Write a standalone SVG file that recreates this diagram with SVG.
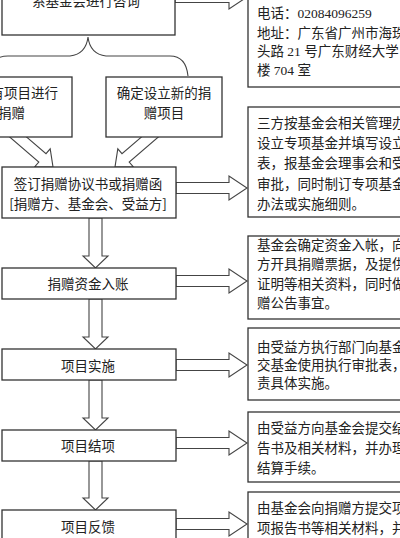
<svg xmlns="http://www.w3.org/2000/svg" width="400" height="538" viewBox="0 0 400 538">
<style>
.box{fill:#fff;stroke:#333;stroke-width:1.3}
.arr{fill:#fff;stroke:#444;stroke-width:1.1;stroke-linejoin:miter}
.brace{fill:none;stroke:#444;stroke-width:1.1}
.t{font-family:"Noto Sans CJK SC","Liberation Sans",sans-serif;font-size:13.5px;fill:#222;dominant-baseline:central}
.c{text-anchor:middle}
.r{font-family:"Liberation Serif","Noto Sans CJK SC",serif;font-size:13.5px;fill:#222;dominant-baseline:central}
</style>
<rect width="400" height="538" fill="#fff"/>
<g id="connectors">
<path class="brace" d="M -12,76 Q -10,56 8,56 L 70,56 Q 86,54 88,37 Q 90,54 106,56 L 170,56 Q 186,56 188,76"/>
<path class="arr" d="M175,-8.5 L229,-8.5 L229,-15 L247,-3 L229,9 L229,2.5 L175,2.5 Z"/>
<path class="arr" d="M176,182.5 L229,182.5 L229,176 L247,188 L229,200 L229,193.5 L176,193.5 Z"/>
<path class="arr" d="M176,275.5 L229,275.5 L229,269 L247,281 L229,293 L229,286.5 L176,286.5 Z"/>
<path class="arr" d="M176,359.5 L229,359.5 L229,353 L247,365 L229,377 L229,370.5 L176,370.5 Z"/>
<path class="arr" d="M176,437.5 L229,437.5 L229,431 L247,443 L229,455 L229,448.5 L176,448.5 Z"/>
<path class="arr" d="M176,518.5 L229,518.5 L229,512 L247,524 L229,536 L229,529.5 L176,529.5 Z"/>
<path class="arr" d="M89,218 L102,218 L102,256 L108,256 L95.5,268 L83,256 L89,256 Z"/>
<path class="arr" d="M89,299 L102,299 L102,337 L108,337 L95.5,349 L83,337 L89,337 Z"/>
<path class="arr" d="M89,380 L102,380 L102,418 L108,418 L95.5,430 L83,418 L89,418 Z"/>
<path class="arr" d="M89,461 L102,461 L102,498 L108,498 L95.5,510 L83,498 L89,498 Z"/>
<path class="arr" d="M13.6,125.8 L46,153.7 L50.2,148.8 L53,167 L34.6,167 L38.8,162.1 L6.4,134.2 Z"/>
<path class="arr" d="M154.4,125.8 L122,153.7 L117.8,148.8 L115,167 L133.4,167 L129.2,162.1 L161.6,134.2 Z"/>
</g>
<g id="n-consult"><rect class="box" x="2" y="-20" width="173" height="55"/><text class="t c" x="86" y="0">系基金会进行咨询</text></g>
<g id="n-existing"><rect class="box" x="-20" y="77" width="92" height="60"/><text class="t" x="58" y="92" text-anchor="end">有项目进行</text><text class="t" x="25" y="112" text-anchor="end">捐赠</text></g>
<g id="n-new"><rect class="box" x="106" y="77" width="116" height="60"/><text class="t c" x="164" y="92">确定设立新的捐</text><text class="t c" x="164" y="112">赠项目</text></g>
<g id="n-sign"><rect class="box" x="2" y="167" width="174" height="51"/><text class="t c" x="88" y="183">签订捐赠协议书或捐赠函</text><text class="t c" x="88" y="203">[捐赠方、基金会、受益方]</text></g>
<g id="n-funds"><rect class="box" x="2" y="268" width="174" height="31"/><text class="t c" x="88" y="283">捐赠资金入账</text></g>
<g id="n-impl"><rect class="box" x="2" y="349" width="174" height="31"/><text class="t c" x="88" y="365">项目实施</text></g>
<g id="n-close"><rect class="box" x="2" y="430" width="174" height="31"/><text class="t c" x="88" y="445">项目结项</text></g>
<g id="n-feedback"><rect class="box" x="2" y="510" width="174" height="50"/><text class="t c" x="88" y="526">项目反馈</text></g>
<g id="r-contact"><rect class="box" x="248" y="-20" width="200" height="107"/>
<text class="r" x="257" y="13">电话：02084096259</text>
<text class="r" x="257" y="33">地址：广东省广州市海珠</text>
<text class="r" x="257" y="51">头路 21 号广东财经大学</text>
<text class="r" x="257" y="70">楼 704 室</text></g>
<g id="r-setup"><rect class="box" x="248" y="107" width="200" height="110"/>
<text class="r" x="257" y="123">三方按基金会相关管理办</text>
<text class="r" x="257" y="143">设立专项基金并填写设立</text>
<text class="r" x="257" y="163">表，报基金会理事会和受</text>
<text class="r" x="257" y="184">审批，同时制订专项基金</text>
<text class="r" x="257" y="204">办法或实施细则。</text></g>
<g id="r-funds"><rect class="box" x="248" y="236" width="200" height="83"/>
<text class="r" x="257" y="245">基金会确定资金入帐，向</text>
<text class="r" x="257" y="264">方开具捐赠票据，及提供</text>
<text class="r" x="257" y="284">证明等相关资料，同时做</text>
<text class="r" x="257" y="303">赠公告事宜。</text></g>
<g id="r-impl"><rect class="box" x="248" y="328" width="200" height="72"/>
<text class="r" x="257" y="347">由受益方执行部门向基金</text>
<text class="r" x="257" y="365">交基金使用执行审批表，</text>
<text class="r" x="257" y="383">责具体实施。</text></g>
<g id="r-close"><rect class="box" x="248" y="412" width="200" height="70"/>
<text class="r" x="257" y="428">由受益方向基金会提交结</text>
<text class="r" x="257" y="448">告书及相关材料，并办理</text>
<text class="r" x="257" y="468">结算手续。</text></g>
<g id="r-feedback"><rect class="box" x="248" y="492" width="200" height="70"/>
<text class="r" x="257" y="508">由基金会向捐赠方提交项</text>
<text class="r" x="257" y="528">项报告书等相关材料，并</text></g>
</svg>
